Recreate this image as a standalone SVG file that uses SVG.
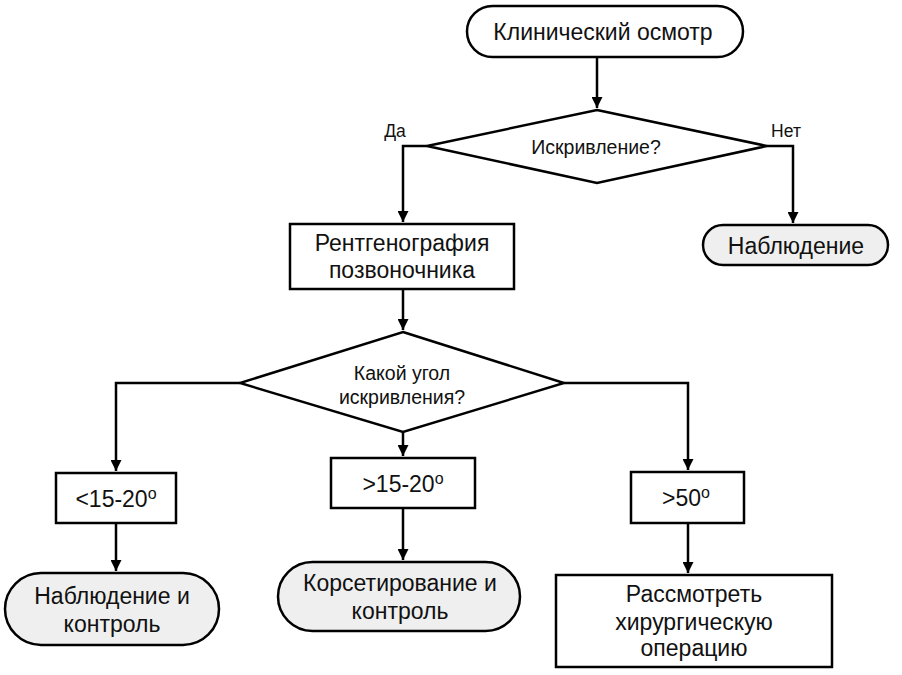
<svg xmlns="http://www.w3.org/2000/svg" width="902" height="675" viewBox="0 0 902 675">
<style>
.s{fill:#fff;stroke:#000;stroke-width:2.5}
.g{fill:#efefef;stroke:#000;stroke-width:2.5}
.c{fill:none;stroke:#000;stroke-width:2.5}
text{font-family:"Liberation Sans",Arial,sans-serif;fill:#111;text-anchor:middle}
.t20{font-size:23px}
.t17{font-size:19.5px}
.t15{font-size:17.5px}
.sup{font-size:16px}
</style>
<defs>
<marker id="ah" viewBox="0 0 10 10" refX="10" refY="5" markerWidth="4.4" markerHeight="4.4" orient="auto" markerUnits="strokeWidth">
<path d="M0,0 L10,5 L0,10 z" fill="#000"/>
</marker>
</defs>
<rect width="902" height="675" fill="#fff"/>
<g id="connectors">
<path class="c" d="M597,57 V108" marker-end="url(#ah)"/>
<path class="c" d="M427,146 H403 V222" marker-end="url(#ah)"/>
<path class="c" d="M767,146 H793 V223" marker-end="url(#ah)"/>
<path class="c" d="M403,289 V330" marker-end="url(#ah)"/>
<path class="c" d="M240,383 H116 V471" marker-end="url(#ah)"/>
<path class="c" d="M403,432 V456" marker-end="url(#ah)"/>
<path class="c" d="M564,383 H688 V470" marker-end="url(#ah)"/>
<path class="c" d="M116,523 V571" marker-end="url(#ah)"/>
<path class="c" d="M403,508 V560" marker-end="url(#ah)"/>
<path class="c" d="M688,523 V573" marker-end="url(#ah)"/>
<text class="t15" x="395" y="137">Да</text>
<text class="t15" x="786" y="137">Нет</text>
</g>
<g id="start">
<rect class="s" x="467" y="6" width="276" height="51" rx="25.5"/>
<text class="t20" x="603" y="40">Клинический осмотр</text>
</g>
<g id="q1">
<polygon class="s" points="597,110 767,146 597,183 427,146"/>
<text class="t17" x="596" y="154">Искривление?</text>
</g>
<g id="observe">
<rect class="g" x="703" y="225" width="185" height="40" rx="20"/>
<text class="t20" x="796" y="254">Наблюдение</text>
</g>
<g id="xray">
<rect class="s" x="290" y="224" width="224" height="65"/>
<text class="t20" x="402" y="251">Рентгенография</text>
<text class="t20" x="402" y="278">позвоночника</text>
</g>
<g id="q2">
<polygon class="s" points="403,332 564,383 403,432 240,383"/>
<text class="t17" x="402" y="380">Какой угол</text>
<text class="t17" x="402" y="404">искривления?</text>
</g>
<g id="a1">
<rect class="s" x="56" y="473" width="120" height="50"/>
<text class="t20" x="116" y="507">&lt;15-20<tspan class="sup" dy="-8">o</tspan></text>
</g>
<g id="a2">
<rect class="s" x="331" y="458" width="144" height="50"/>
<text class="t20" x="403" y="492">&gt;15-20<tspan class="sup" dy="-8">o</tspan></text>
</g>
<g id="a3">
<rect class="s" x="631" y="472" width="113" height="51"/>
<text class="t20" x="686" y="506">&gt;50<tspan class="sup" dy="-8">o</tspan></text>
</g>
<g id="r1">
<rect class="g" x="5" y="573" width="214" height="72" rx="36"/>
<text class="t20" x="112" y="604">Наблюдение и</text>
<text class="t20" x="112" y="632">контроль</text>
</g>
<g id="r2">
<rect class="g" x="278" y="562" width="242" height="69" rx="34.5"/>
<text class="t20" x="400" y="591">Корсетирование и</text>
<text class="t20" x="400" y="619">контроль</text>
</g>
<g id="r3">
<rect class="s" x="556" y="575" width="276" height="92"/>
<text class="t20" x="694" y="602">Рассмотреть</text>
<text class="t20" x="694" y="630">хирургическую</text>
<text class="t20" x="694" y="656">операцию</text>
</g>
</svg>
